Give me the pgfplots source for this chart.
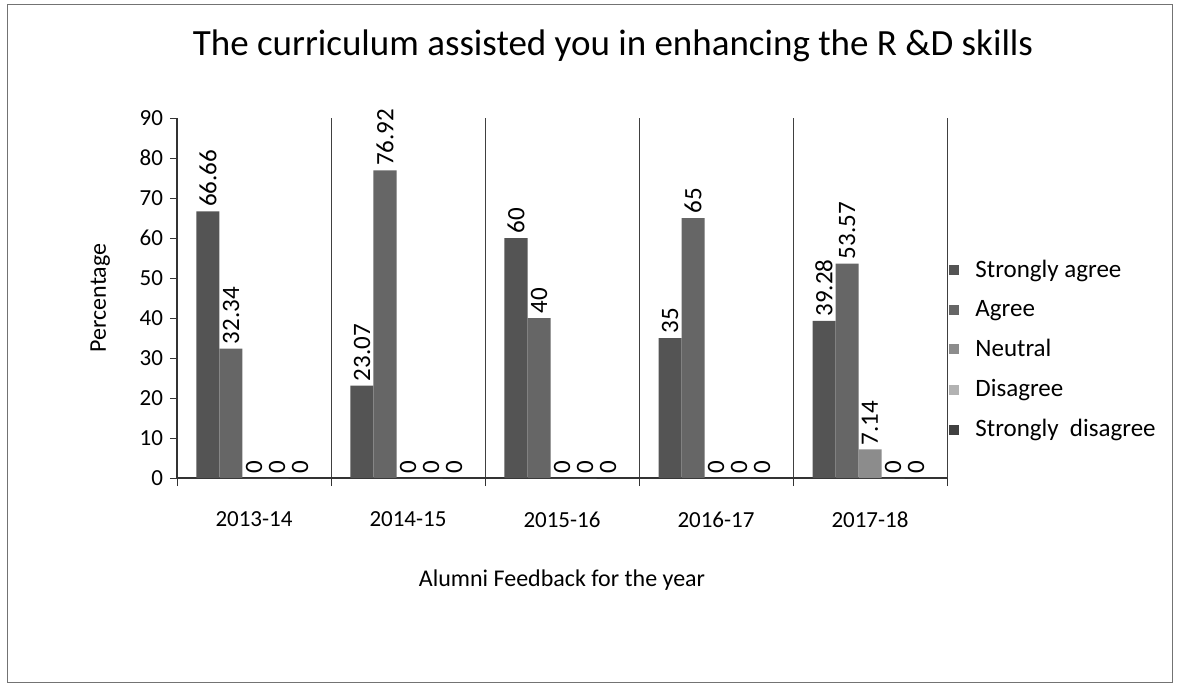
\documentclass[border=0pt]{standalone}
\usepackage{fontspec}
\setmainfont{Carlito}
\usepackage{pgfplots}
\pgfplotsset{compat=1.18}
\definecolor{csa}{gray}{0.33}
\definecolor{ca}{gray}{0.40}
\definecolor{cn}{gray}{0.55}
\definecolor{cd}{gray}{0.70}
\definecolor{csd}{gray}{0.25}
\begin{document}
\begin{tikzpicture}
\useasboundingbox (-88.5pt,-106pt) rectangle (502.5pt,239pt);
\draw[black!55, line width=0.5pt] (-84.5pt,-102pt) rectangle (497.5pt,236.5pt);
\node[font=\fontsize{18.5}{22}\selectfont] at (218pt,216pt) {The curriculum assisted you in enhancing the R \&D skills};
\begin{axis}[
  scale only axis, width=385pt, height=180pt,
  /pgf/number format/assume math mode=true,
  ymin=0, ymax=90, ytick={0,10,...,90},
  xmin=-0.5, xmax=4.5, xtick={0,1,2,3,4},
  xticklabels={2013-14,2014-15,2015-16,2016-17,2017-18},
  minor xtick={-0.5,0.5,1.5,2.5,3.5,4.5},
  xminorgrids, minor grid style={black!75, line width=0.5pt},
  axis x line*=bottom, axis y line*=left,
  axis line style={black!80, line width=0.6pt},
  tick align=outside,
  major tick length=3.5pt, minor tick length=4pt,
  x tick style={draw=none}, minor x tick style={draw=black!80},
  y tick style={black!80},
  tick label style={font=\fontsize{11.5}{13}\selectfont},
  xticklabel style={yshift=-10pt},
  xlabel={Alumni Feedback for the year},
  ylabel={Percentage},
  label style={font=\fontsize{12}{14}\selectfont},
  xlabel style={yshift=-14pt},
  ylabel style={yshift=8pt},
  ybar=0pt, bar width=11.5pt,
  nodes near coords,
  every node near coord/.append style={rotate=90, anchor=west, font=\fontsize{12.5}{14}\selectfont, inner sep=2pt},
  legend style={at={(rel axis cs:1.0,0.356)}, anchor=west, draw=none, fill=none,
     font=\fontsize{12.5}{14}\selectfont, row sep=6pt, column sep=6pt, xshift=-2pt},
  legend cell align=left,
  legend image code/.code={\fill[#1] (0pt,-2.5pt) rectangle (5pt,2.5pt);},
]
\addplot[fill=csa, draw=none] coordinates {(0,66.66) (1,23.07) (2,60) (3,35) (4,39.28)};
\addplot[fill=ca, draw=none] coordinates {(0,32.34) (1,76.92) (2,40) (3,65) (4,53.57)};
\addplot[fill=cn, draw=none] coordinates {(0,0) (1,0) (2,0) (3,0) (4,7.14)};
\addplot[fill=cd, draw=none] coordinates {(0,0) (1,0) (2,0) (3,0) (4,0)};
\addplot[fill=csd, draw=none] coordinates {(0,0) (1,0) (2,0) (3,0) (4,0)};
\legend{Strongly agree, Agree, Neutral, Disagree, Strongly\ \ disagree}
\end{axis}
\end{tikzpicture}
\end{document}
